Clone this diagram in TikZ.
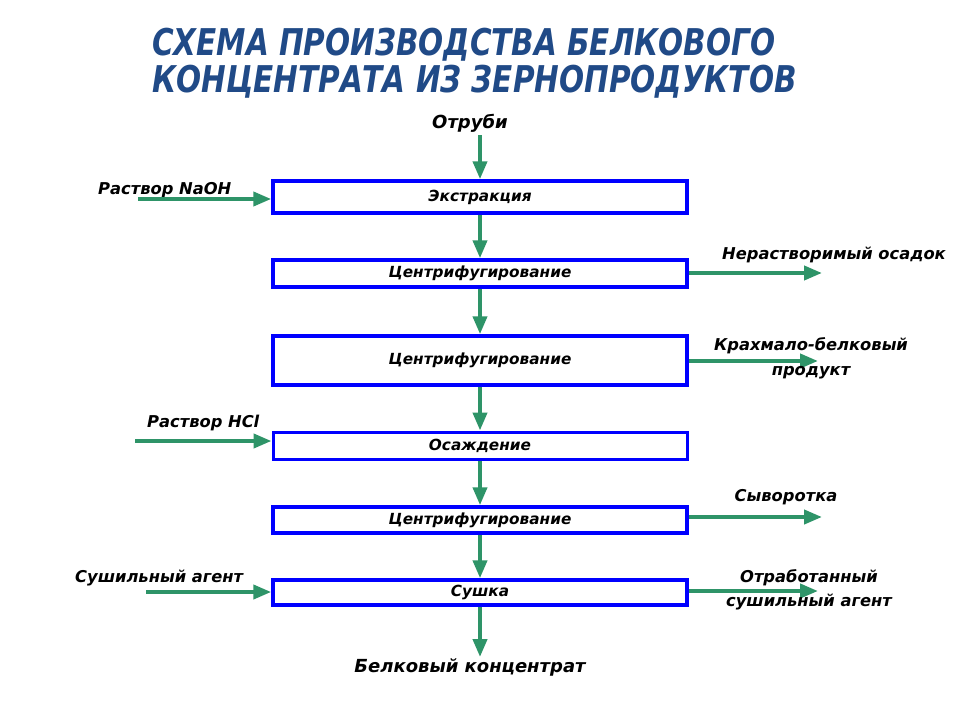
\documentclass[tikz,border=0pt]{standalone}
\usepackage{fontspec}
\setmainfont{DejaVu Sans}
\usetikzlibrary{arrows.meta}
\definecolor{arrowgreen}{HTML}{2E9468}
\definecolor{boxblue}{HTML}{0000FF}
\definecolor{titleblue}{HTML}{204A87}
\begin{document}
\begin{tikzpicture}[x=1pt,y=-1pt,
  stepbox/.style={draw=boxblue, line width=3.5pt, minimum width=414pt, inner sep=0pt,
    font=\fontsize{15.3}{18}\selectfont\bfseries\itshape},
  flow/.style={draw=arrowgreen, line width=4pt, -{Triangle[length=18pt,width=14pt]}},
  lbl/.style={font=\fontsize{16.3}{25}\selectfont\bfseries\itshape, inner sep=0pt, align=center},
  biglbl/.style={font=\fontsize{18}{22}\selectfont\bfseries\itshape, inner sep=0pt},
  ttl/.style={font=\fontsize{29.5}{37}\selectfont\bfseries\itshape, text=titleblue, inner sep=0pt, align=left}]
\useasboundingbox (0,0) rectangle (960,720);
\fill[white] (0,0) rectangle (960,720);
% title
\node[ttl, anchor=west] (t1) at (152,45) {\scalebox{1}[1.25]{СХЕМА ПРОИЗВОДСТВА БЕЛКОВОГО}};
\node[ttl, anchor=west] (t2) at (152,82) {\scalebox{1}[1.25]{КОНЦЕНТРАТА ИЗ ЗЕРНОПРОДУКТОВ}};
% boxes
\node[stepbox, minimum height=32pt] (b1) at (480,197) {Экстракция};
\node[stepbox, minimum height=27pt] (b2) at (480,273.5) {Центрифугирование};
\node[stepbox, minimum height=49pt] (b3) at (480,360.5) {Центрифугирование};
\node[stepbox, minimum height=27pt, line width=3pt] (b4) at (480,445.5) {Осаждение};
\node[stepbox, minimum height=26pt] (b5) at (480,520) {Центрифугирование};
\node[stepbox, minimum height=25pt] (b6) at (480,592.5) {Сушка};
% top/bottom labels
\node[biglbl] (in) at (470,123) {Отруби};
\node[biglbl] (out) at (470,667) {Белковый концентрат};
\coordinate (inA) at (480,135);
\coordinate (outA) at (480,657);
\draw[flow] (inA) -- (b1.north);
\draw[flow] (b1.south) -- (b2.north);
\draw[flow] (b2.south) -- (b3.north);
\draw[flow] (b3.south) -- (b4.north);
\draw[flow] (b4.south) -- (b5.north);
\draw[flow] (b5.south) -- (b6.north);
\draw[flow] (b6.south) -- (outA);
% left inputs
\node[lbl, anchor=west] (naoh) at (98,190) {Раствор NaOH};
\coordinate (naohS) at (138,199);
\draw[flow] (naohS) -- (b1.west |- naohS);
\node[lbl, anchor=west] (hcl) at (147,423) {Раствор HCl};
\coordinate (hclS) at (135,441);
\draw[flow] (hclS) -- (b4.west |- hclS);
\node[lbl, anchor=west] (agent) at (75,578) {Сушильный агент};
\coordinate (agentS) at (146,592);
\draw[flow] (agentS) -- (b6.west |- agentS);
% right outputs
\coordinate (o2) at (822,273);
\draw[flow] (b2.east |- o2) -- (o2);
\node[lbl, anchor=west] (ins) at (722,255) {Нерастворимый осадок};
\coordinate (o3) at (818,361);
\draw[flow] (b3.east |- o3) -- (o3);
\node[lbl] (starch) at (811,358) {Крахмало-белковый\\продукт};
\coordinate (o5) at (822,517);
\draw[flow] (b5.east |- o5) -- (o5);
\node[lbl] (whey) at (786,497) {Сыворотка};
\coordinate (o6) at (818,591);
\draw[flow] (b6.east |- o6) -- (o6);
\node[lbl, font=\fontsize{16.3}{24}\selectfont\bfseries\itshape] (spent) at (809,590) {Отработанный\\сушильный агент};
\end{tikzpicture}
\end{document}
